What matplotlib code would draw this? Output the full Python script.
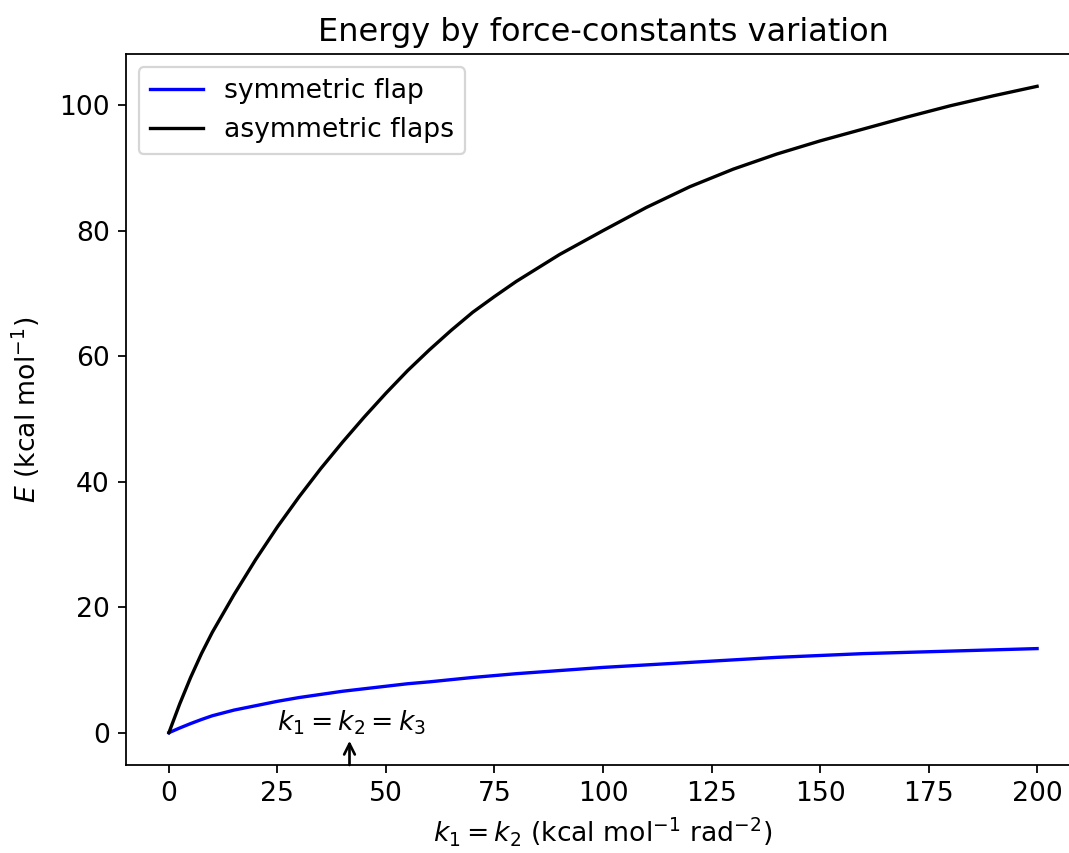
import matplotlib
matplotlib.use("Agg")
import matplotlib.pyplot as plt
import numpy as np

# force constant k1 = k2 (kcal mol^-1 rad^-2)
k = [0, 2.5, 5, 7.5, 10, 15, 20, 25, 30, 35, 40, 45, 50, 55, 60, 65, 70, 75, 80, 90, 100,
     110, 120, 130, 140, 150, 160, 170, 180, 190, 200]

# energies (kcal/mol)
E_sym = [0, 0.75, 1.45, 2.1, 2.7, 3.6, 4.3, 5.0, 5.6, 6.1, 6.6, 7.0, 7.4, 7.8, 8.1, 8.45,
         8.8, 9.1, 9.4, 9.9, 10.4, 10.8, 11.2, 11.6, 12.0, 12.3, 12.6, 12.8, 13.0, 13.2, 13.4]
E_asym = [0, 4.6, 8.8, 12.6, 16.0, 22.0, 27.6, 32.8, 37.6, 42.1, 46.3, 50.3, 54.1, 57.7, 61.0,
          64.1, 67.0, 69.5, 71.9, 76.2, 80.0, 83.7, 87.0, 89.8, 92.2, 94.3, 96.2, 98.1, 99.9,
          101.5, 103.0]

k_equal = 41.6  # where k1 = k2 = k3

plt.rcParams["font.size"] = 12

fig = plt.figure(figsize=(1069/160, 853/160), dpi=160)
ax = fig.add_axes([125.5/1069, 1 - 765/853, 955/1069, 711/853])

ax.plot(k, E_sym, color="blue", label="symmetric flap")
ax.plot(k, E_asym, color="black", label="asymmetric flaps")
ax.set_xlim(-10, 210)

ymin = ax.get_ylim()[0]
ax.annotate("", xy=(k_equal, -1.3), xytext=(k_equal, ymin),
            arrowprops=dict(arrowstyle="->", color="black", lw=1.2,
                            shrinkA=0, shrinkB=0))
ax.text(k_equal + 0.6, 0.3, "$k_1=k_2=k_3$", ha="center", va="baseline")

ax.set_title("Energy by force-constants variation", fontsize=14.4)
ax.set_xlabel("$k_1=k_2$ (kcal mol$^{-1}$ rad$^{-2}$)")
ax.set_ylabel("$E$ (kcal mol$^{-1}$)", labelpad=8)
ax.legend(loc="upper left")

fig.savefig("out.png", dpi=160)
